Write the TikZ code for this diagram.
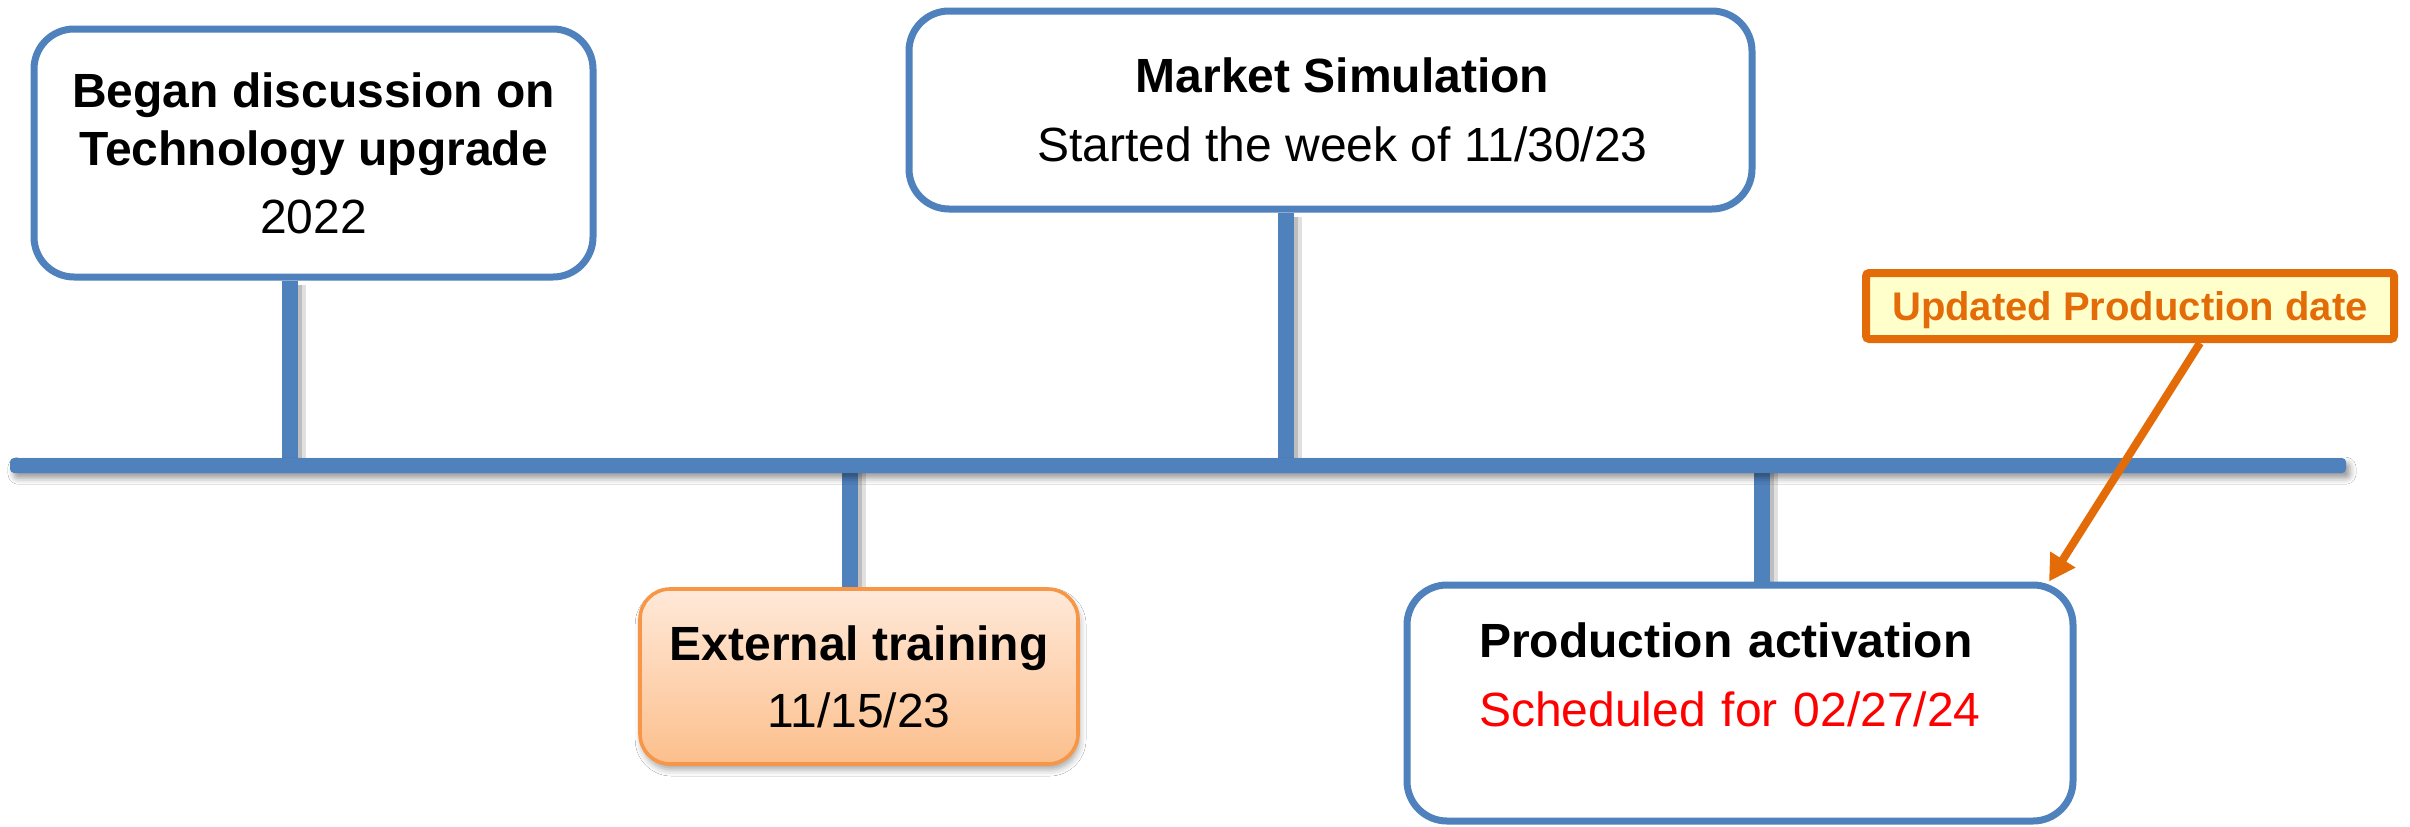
\documentclass[tikz,border=0pt]{standalone}
\usepackage{fontspec}
\setmainfont{Liberation Sans}
\usetikzlibrary{arrows.meta,shadows.blur,calc}
\definecolor{tlblue}{HTML}{4F81BD}
\definecolor{trborder}{HTML}{F79646}
\definecolor{trtop}{HTML}{FFE9D9}
\definecolor{trbot}{HTML}{FCBF8C}
\definecolor{coorange}{HTML}{E36C09}
\definecolor{cofill}{HTML}{FFFFCC}
\definecolor{schedred}{HTML}{FF0000}
\pgfdeclarelayer{bg}
\pgfsetlayers{bg,main}
\begin{document}
\begin{tikzpicture}[x=0.25pt,y=-0.25pt,
  bluebox/.style={draw=tlblue, line width=1.75pt, rounded corners=10pt, fill=white, inner sep=0pt, align=center},
  trainbox/.style={draw=trborder, line width=0.9pt, rounded corners=7.5pt, top color=trtop, bottom color=trbot, inner sep=0pt, align=center,
    blur shadow={shadow xshift=0.4pt, shadow yshift=-1.4pt, shadow blur radius=1.6pt, shadow opacity=35}},
  callout/.style={draw=coorange, line width=2pt, fill=cofill, rounded corners=0.8pt, inner sep=0pt, text=coorange, text depth=0pt,
    font=\fontsize{10}{12}\selectfont\bfseries},
  timeline/.style={fill=tlblue, rounded corners=1pt, inner sep=0pt,
    blur shadow={shadow xshift=1pt, shadow yshift=-1.3pt, shadow blur radius=1.5pt, shadow opacity=40}},
  stemline/.style={draw=tlblue, line width=4pt,
    preaction={draw=black, draw opacity=0.12, line width=5.5pt, transform canvas={shift={(1.3pt,-1.2pt)}}},
    preaction={draw=black, draw opacity=0.15, line width=4pt, transform canvas={shift={(1.1pt,-1pt)}}}},
  pointer/.style={draw=coorange, line width=2pt, -{Triangle[length=6.5pt,width=7pt]}}
]
\useasboundingbox (0,0) rectangle (2410,826);

% timeline
\node[timeline, minimum width=584pt, minimum height=3.75pt] (tl) at (1178,465.5) {};

% boxes
\node[bluebox, minimum width=139.75pt, minimum height=62pt, font=\fontsize{12}{14.5}\selectfont] (b1) at (313.5,153)
  {\textbf{Began discussion on}\\\textbf{Technology upgrade}\\[2.5pt]2022};
\node[bluebox, minimum width=210.75pt, minimum height=49.5pt, font=\fontsize{12}{17.25}\selectfont] (b2) at (1330.5,110)
  {\hspace*{6pt}\textbf{Market Simulation}\\\hspace*{6pt}Started the week of 11/30/23};
\node[trainbox, minimum width=109.5pt, minimum height=43.75pt, font=\fontsize{12}{16.75}\selectfont] (b3) at (859,676.5)
  {\textbf{External training}\\11/15/23};
\node[bluebox, align=left, inner xsep=18pt, text width=130.5pt, minimum width=166.5pt, minimum height=59pt, font=\fontsize{12}{17.25}\selectfont] (b4) at (1740,703)
  {\textbf{Production activation}\\\textcolor{schedred}{Scheduled for 02/27/24}\rule[-14pt]{0pt}{0pt}};

\node[callout, minimum width=132pt, minimum height=16.5pt] (co) at (2130,306) {Updated Production date};

% background and stems
\begin{pgfonlayer}{bg}
\fill[white] (0,0) rectangle (2410,826);
\draw[stemline] (b1.south -| 290,0) -- (tl.center -| 290,0);
\draw[stemline] (b2.south -| 1286,0) -- (tl.center -| 1286,0);
\draw[stemline] (tl.center -| 850,0) -- (b3.north -| 850,0);
\draw[stemline] (tl.center -| 1762,0) -- (b4.north -| 1762,0);
\end{pgfonlayer}

% pointer arrow
\draw[pointer] (co.south -| 2200,0) -- (b4.north -| 2049,0);
\end{tikzpicture}
\end{document}
